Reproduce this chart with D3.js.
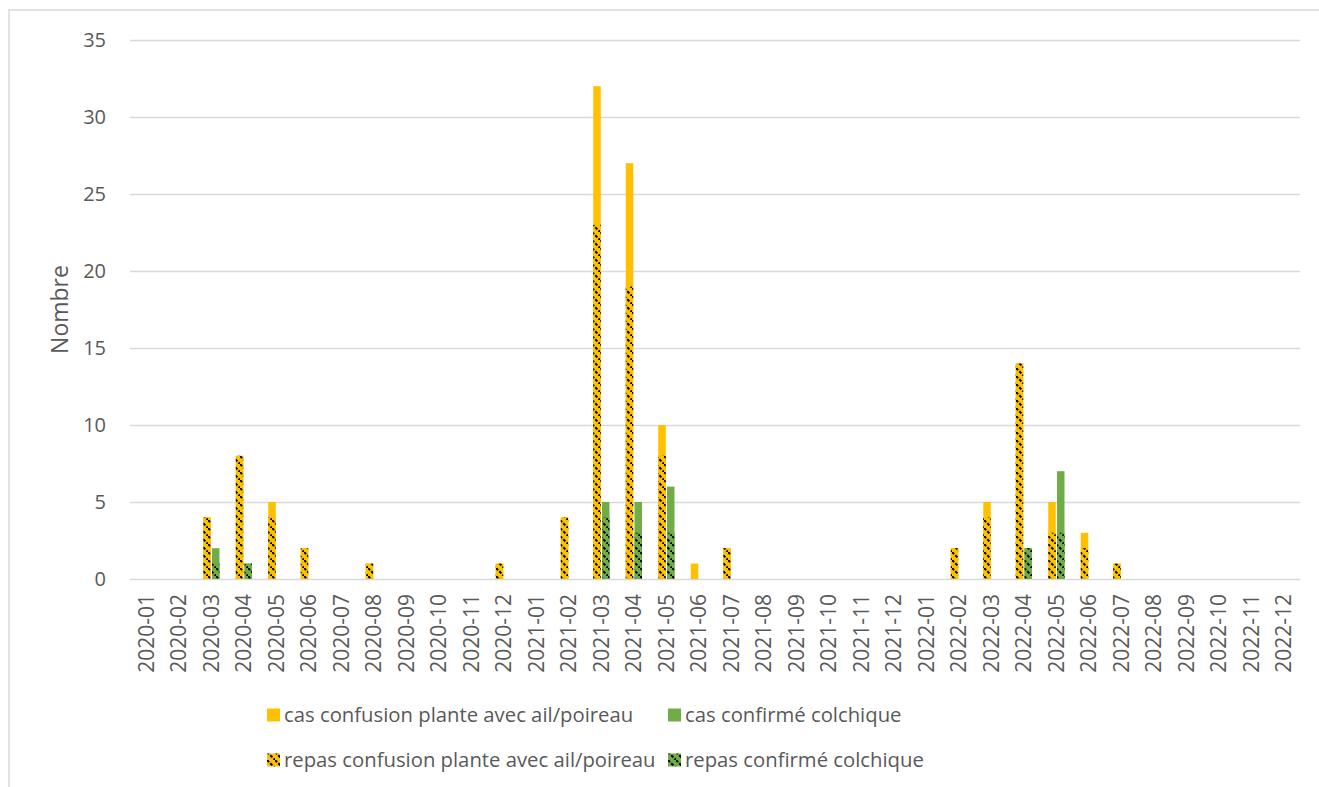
<!DOCTYPE html>
<html>
<head>
<meta charset="utf-8">
<script src="https://cdn.jsdelivr.net/npm/d3@7"></script>
<style>
  body { margin: 0; background: #fff; }
  text { font-family: "Open Sans", sans-serif; fill: #595959; }
</style>
</head>
<body>
<svg id="chart" width="1319" height="787"></svg>
<script>
// DATA
const months = [];
["2020", "2021", "2022"].forEach((y) => {
  for (let m = 1; m <= 12; m++) months.push(y + "-" + String(m).padStart(2, "0"));
});

const casConfusion = {
  "2020-03": 4, "2020-04": 8, "2020-05": 5, "2020-06": 2, "2020-08": 1, "2020-12": 1,
  "2021-02": 4, "2021-03": 32, "2021-04": 27, "2021-05": 10, "2021-06": 1, "2021-07": 2,
  "2022-02": 2, "2022-03": 5, "2022-04": 14, "2022-05": 5, "2022-06": 3, "2022-07": 1,
};
const repasConfusion = {
  "2020-03": 4, "2020-04": 8, "2020-05": 4, "2020-06": 2, "2020-08": 1, "2020-12": 1,
  "2021-02": 4, "2021-03": 23, "2021-04": 19, "2021-05": 8, "2021-07": 2,
  "2022-02": 2, "2022-03": 4, "2022-04": 14, "2022-05": 3, "2022-06": 2, "2022-07": 1,
};
const casConfirme = {
  "2020-03": 2, "2020-04": 1, "2021-03": 5, "2021-04": 5, "2021-05": 6,
  "2022-04": 2, "2022-05": 7,
};
const repasConfirme = {
  "2020-03": 1, "2020-04": 1, "2021-03": 4, "2021-04": 3, "2021-05": 3,
  "2022-04": 2, "2022-05": 3,
};
const yTicks = [0, 5, 10, 15, 20, 25, 30, 35];

const svg = d3.select("#chart");
const orange = "#FFC000", green = "#70AD47";

// hatch patterns (dashed downward diagonal)
const defs = svg.append("defs");
function hatch(id, base) {
  const p = defs.append("pattern")
    .attr("id", id)
    .attr("patternUnits", "userSpaceOnUse")
    .attr("width", 8).attr("height", 8);
  p.append("rect").attr("width", 8).attr("height", 8).attr("fill", base);
  p.append("path")
    .attr("d", "M0,0 L8,8")
    .attr("stroke", "#000")
    .attr("stroke-width", 2)
    .attr("stroke-dasharray", "3,1.6");
}
hatch("hOrange", orange);
hatch("hGreen", green);

// frame
svg.append("rect")
  .attr("x", 9).attr("y", 10).attr("width", 1330).attr("height", 800)
  .attr("fill", "none").attr("stroke", "#d9d9d9").attr("stroke-width", 1.5);

const x = d3.scaleBand().domain(months).range([130, 1300]);
const y = d3.scaleLinear().domain([0, 35]).range([579, 40]);

// gridlines
svg.append("g").selectAll("line").data(yTicks).join("line")
  .attr("x1", 130).attr("x2", 1300)
  .attr("y1", (d) => Math.round(y(d)) + 0.5).attr("y2", (d) => Math.round(y(d)) + 0.5)
  .attr("stroke", "#d9d9d9").attr("stroke-width", 1.5);

// y axis labels
svg.append("g").selectAll("text").data(yTicks).join("text")
  .attr("x", 106).attr("y", (d) => y(d))
  .attr("dy", "0.35em").attr("text-anchor", "end")
  .style("font-size", "20px")
  .text((d) => d);

svg.append("text")
  .attr("transform", `translate(60,${(y(0) + y(35)) / 2}) rotate(-90)`)
  .attr("text-anchor", "middle")
  .attr("dy", "0.35em")
  .style("font-size", "23px")
  .text("Nombre");

// x axis labels
svg.append("g").selectAll("text").data(months).join("text")
  .attr("transform", (d) => `translate(${x(d) + x.bandwidth() / 2},594) rotate(-90)`)
  .attr("text-anchor", "end")
  .attr("dy", "0.35em")
  .style("font-size", "21px")
  .text((d) => d);

const bw = 7.5;
function bars(obj, offset, fill) {
  const data = months.filter((m) => obj[m]).map((m) => ({ m, v: obj[m] }));
  svg.append("g").selectAll("rect").data(data).join("rect")
    .attr("x", (d) => x(d.m) + x.bandwidth() / 2 + offset)
    .attr("y", (d) => y(d.v))
    .attr("width", bw)
    .attr("height", (d) => y(0) - y(d.v))
    .attr("fill", fill);
}
bars(casConfusion, -8, orange);
bars(casConfirme, 0.75, green);
bars(repasConfusion, -8, "url(#hOrange)");
bars(repasConfirme, 0.75, "url(#hGreen)");

// legend
const legend = [
  { label: "cas confusion plante avec ail/poireau", fill: orange, x: 267, y: 715 },
  { label: "cas confirmé colchique", fill: green, x: 668, y: 715 },
  { label: "repas confusion plante avec ail/poireau", fill: "url(#hOrange)", x: 267, y: 760 },
  { label: "repas confirmé colchique", fill: "url(#hGreen)", x: 668, y: 760 },
];
const lg = svg.append("g").selectAll("g").data(legend).join("g")
  .attr("transform", (d) => `translate(${d.x},${d.y})`);
lg.append("rect").attr("x", 0).attr("y", -6.5).attr("width", 13).attr("height", 13)
  .attr("fill", (d) => d.fill);
lg.append("text").attr("x", 17).attr("dy", "0.35em")
  .style("font-size", "20.3px")
  .text((d) => d.label);
</script>
</body>
</html>
